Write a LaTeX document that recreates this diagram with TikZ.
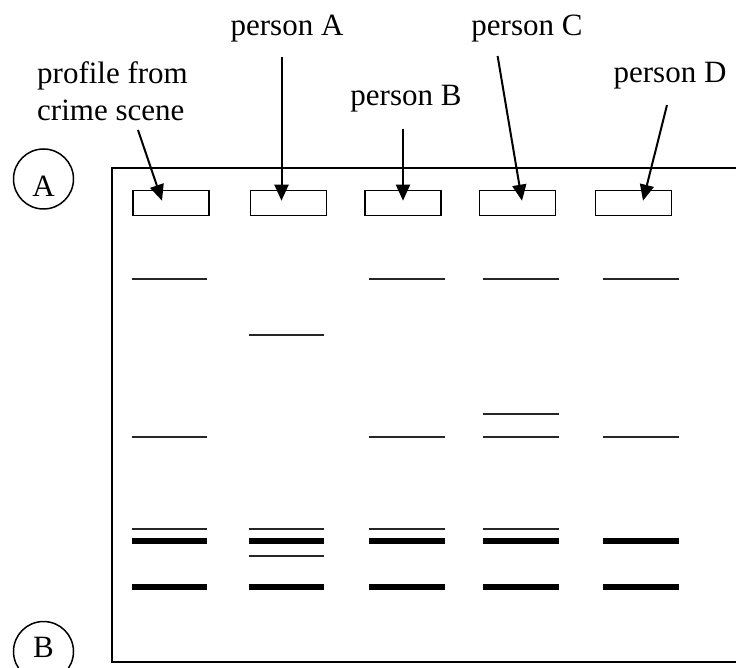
\documentclass[tikz,border=0pt]{standalone}
\usepackage{fontspec}
\setmainfont{Liberation Serif}
\usetikzlibrary{arrows.meta}
\begin{document}
\begin{tikzpicture}[x=1pt,y=-1pt,
  lbl/.style={font=\fontsize{31}{37}\selectfont, inner sep=0pt},
  well/.style={draw, line width=1.5pt, minimum width=76pt, minimum height=25pt, inner sep=0pt},
  band/.style={line width=2pt, black!85},
  heavyband/.style={line width=6pt},
  ptr/.style={line width=2pt, -{Triangle[length=16pt,width=14pt]}},
  ring/.style={draw, circle, line width=1.5pt, minimum size=60pt, inner sep=0pt}]
\useasboundingbox (0,0) rectangle (736,668);

% gel outline (open to the right)
\draw[line width=2pt] (740,168.5) -- (111.5,168.5) -- (111.5,662) -- (740,662);

% circles A and B
\node[ring] (cA) at (43.5,179) {};
\node[lbl, anchor=base] (tA) at (43.5,197) {A};
\node[ring] (cB) at (43.5,651.5) {};
\node[lbl, anchor=base] (tB) at (43.5,657) {B};

% labels
\node[lbl, anchor=base west, align=left] (crime) at (37,121) {profile from\\crime scene};
\node[lbl, anchor=base] (pA) at (287,36) {person A};
\node[lbl, anchor=base] (pB) at (406,106) {person B};
\node[lbl, anchor=base] (pC) at (527,36) {person C};
\node[lbl, anchor=base] (pD) at (670,83) {person D};

% wells
\node[well] (w1) at (171,203) {};
\node[well] (w2) at (288.5,203) {};
\node[well] (w3) at (403,203) {};
\node[well] (w4) at (517.5,203) {};
\node[well] (w5) at (633.5,203) {};

% arrows
\coordinate (s1) at (138,130);   \coordinate (e1) at (162,200.7);
\coordinate (s2) at (281.5,57);  \coordinate (e2) at (281.5,200.7);
\coordinate (s3) at (403,129);   \coordinate (e3) at (403,200.7);
\coordinate (s4) at (497.6,56);  \coordinate (e4) at (522,200.7);
\coordinate (s5) at (667,105);   \coordinate (e5) at (643,200.7);
\draw[ptr] (s1) -- (e1);
\draw[ptr] (s2) -- (e2);
\draw[ptr] (s3) -- (e3);
\draw[ptr] (s4) -- (e4);
\draw[ptr] (s5) -- (e5);

% lanes x ranges
\def\lA{131.5}\def\rA{207}
\def\lB{248.5}\def\rB{324}
\def\lC{369}\def\rC{445}
\def\lD{483}\def\rD{559}
\def\lE{603}\def\rE{679}

% row 279
\foreach \a/\b in {\lA/\rA,\lC/\rC,\lD/\rD,\lE/\rE}
  \draw[band] (\a,279) -- (\b,279);
% row 334.5
\draw[band] (\lB,334.5) -- (\rB,334.5);
% row 413.7
\draw[band] (\lD,413.7) -- (\rD,413.7);
% row 436.7
\foreach \a/\b in {\lA/\rA,\lC/\rC,\lD/\rD,\lE/\rE}
  \draw[band] (\a,436.7) -- (\b,436.7);
% row 529.3
\foreach \a/\b in {\lA/\rA,\lB/\rB,\lC/\rC,\lD/\rD}
  \draw[band] (\a,529.3) -- (\b,529.3);
% row 540.7 thick
\foreach \a/\b in {\lA/\rA,\lB/\rB,\lC/\rC,\lD/\rD,\lE/\rE}
  \draw[heavyband] (\a,540.7) -- (\b,540.7);
% row 556
\draw[band] (\lB,556) -- (\rB,556);
% row 587 thick
\foreach \a/\b in {\lA/\rA,\lB/\rB,\lC/\rC,\lD/\rD,\lE/\rE}
  \draw[heavyband] (\a,587) -- (\b,587);
\end{tikzpicture}
\end{document}
